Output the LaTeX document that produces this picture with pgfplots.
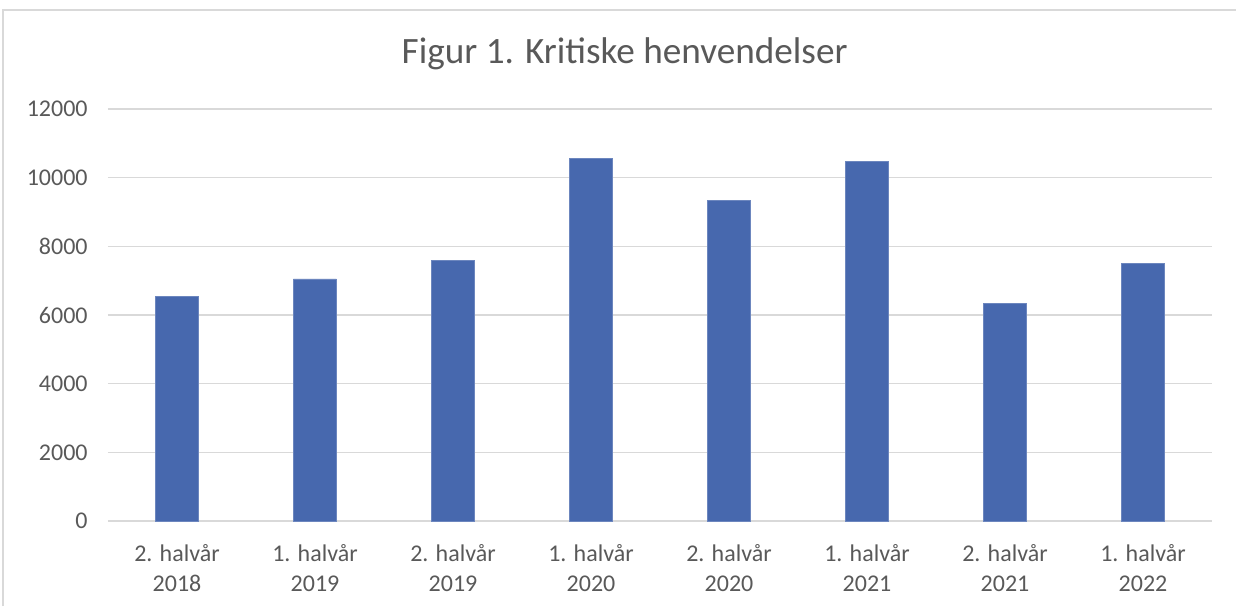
\documentclass[border=0pt]{standalone}
\usepackage{pgfplots}
\pgfplotsset{compat=1.18}
\usepackage{fontspec}
\setmainfont{Carlito}
\definecolor{barblue}{RGB}{71,104,174}
\definecolor{gridgray}{RGB}{217,217,217}
\definecolor{labelgray}{RGB}{89,89,89}

\begin{document}
\begin{tikzpicture}
\path[use as bounding box] (0,0) rectangle (618pt,303pt);
% chart frame
\draw[gridgray, line width=0.6pt] (1.5pt,0) -- (1.5pt,298pt) -- (618pt,298pt);
\node[anchor=base, font=\fontsize{18.6}{21}\selectfont, text=labelgray]
    at (312.3pt,271pt) {Figur 1. Kritiske henvendelser};
\begin{axis}[
    at={(54pt,42.5pt)},
    anchor=south west,
    scale only axis,
    width=552pt,
    height=206pt,
    ybar,
    bar width=21.5pt,
    xmin=-0.5, xmax=7.5,
    ymin=0, ymax=12000,
    ytick={0,2000,4000,6000,8000,10000,12000},
    scaled y ticks=false,
    xtick=data,
    xticklabels={{2. halvår\\2018},{1. halvår\\2019},{2. halvår\\2019},{1. halvår\\2020},
                 {2. halvår\\2020},{1. halvår\\2021},{2. halvår\\2021},{1. halvår\\2022}},
    ymajorgrids,
    grid style={gridgray, line width=0.6pt},
    axis x line*=bottom,
    axis y line*=left,
    y axis line style={draw=none},
    x axis line style={gridgray, line width=0.6pt, -},
    major tick length=0pt,
    /pgf/number format/fixed,
    /pgf/number format/1000 sep={},
    /pgf/number format/assume math mode=true,
    tick label style={text=labelgray, font=\fontsize{12}{15}\selectfont},
    xticklabel style={align=center, anchor=north, inner sep=0pt, yshift=-11.5pt},
    yticklabel style={anchor=east, inner sep=0pt, xshift=-10pt},
    ylabel={}, xlabel={},
]
\addplot[fill=barblue, draw=barblue!80!white, line width=0.3pt] coordinates {
    (0,6545) (1,7050) (2,7595) (3,10555) (4,9340) (5,10478) (6,6340) (7,7505)
};
\end{axis}
\end{tikzpicture}
\end{document}
